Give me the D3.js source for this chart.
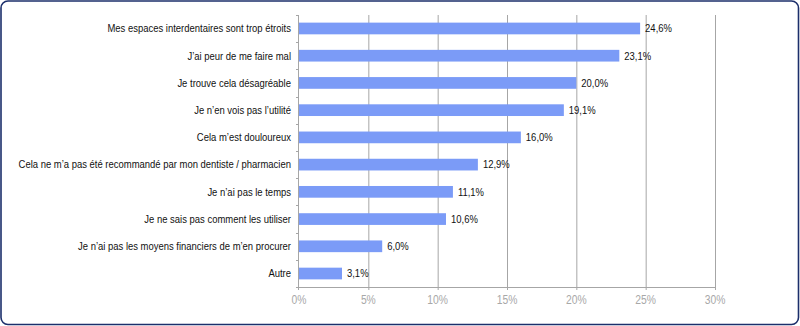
<!DOCTYPE html>
<html><head><meta charset="utf-8">
<script src="https://cdn.jsdelivr.net/npm/d3@7"></script>
<style>body{margin:0;background:#fff}svg{display:block}</style>
</head><body>
<script>
const categories = [
  "Mes espaces interdentaires sont trop étroits",
  "J’ai peur de me faire mal",
  "Je trouve cela désagréable",
  "Je n’en vois pas l’utilité",
  "Cela m’est douloureux",
  "Cela ne m’a pas été recommandé par mon dentiste / pharmacien",
  "Je n’ai pas le temps",
  "Je ne sais pas comment les utiliser",
  "Je n’ai pas les moyens financiers de m’en procurer",
  "Autre"
];
const values = [24.6, 23.1, 20.0, 19.1, 16.0, 12.9, 11.1, 10.6, 6.0, 3.1];
const valueLabels = ["24,6%","23,1%","20,0%","19,1%","16,0%","12,9%","11,1%","10,6%","6,0%","3,1%"];
const xTicks = [0, 5, 10, 15, 20, 25, 30];
const xTickLabels = ["0%","5%","10%","15%","20%","25%","30%"];

(function(){
const W = 800, H = 326;
const svg = d3.select("body").append("svg").attr("width", W).attr("height", H);
const FONT = "Liberation Sans, Arial, sans-serif";
const squeeze = sel => sel.each(function(){
  const len = this.getComputedTextLength();
  d3.select(this).attr("textLength", len * 0.86).attr("lengthAdjust", "spacingAndGlyphs");
});

svg.append("rect").attr("x", 1).attr("y", 1).attr("width", W - 2.5).attr("height", H - 2.5)
  .attr("rx", 7).attr("fill", "#fff").attr("stroke", "#1c2f6b").attr("stroke-width", 1.6);

const pl = 299, pr = 715, pt = 15, pb = 287;
const x = d3.scaleLinear().domain([0, 30]).range([pl, pr]);
const y = d3.scaleBand().domain(categories).range([pt, pb]).paddingInner(0.57).paddingOuter(0.28);
const grid = "#a6a6a6";

svg.append("g").selectAll("line").data(xTicks.slice(1)).join("line")
  .attr("x1", d => x(d) + 0.5).attr("x2", d => x(d) + 0.5)
  .attr("y1", pt).attr("y2", pb + 3)
  .attr("stroke", grid).attr("stroke-width", 1);

svg.append("line").attr("x1", pl).attr("x2", pr + 1).attr("y1", pb + 0.5).attr("y2", pb + 0.5)
  .attr("stroke", grid);
svg.append("line").attr("x1", pl - 0.5).attr("x2", pl - 0.5).attr("y1", pt).attr("y2", pb + 3)
  .attr("stroke", grid);
const bounds = d3.range(categories.length + 1).map(i => pt + i * (pb - pt) / categories.length);
svg.append("g").selectAll("line").data(bounds).join("line")
  .attr("x1", pl - 3).attr("x2", pl).attr("y1", d => Math.round(d) + 0.5).attr("y2", d => Math.round(d) + 0.5)
  .attr("stroke", grid);

svg.append("g").selectAll("rect").data(values).join("rect")
  .attr("x", pl).attr("y", (d, i) => y(categories[i]))
  .attr("width", d => x(d) - pl).attr("height", y.bandwidth())
  .attr("fill", "#7b9bf7");

svg.append("g").selectAll("text").data(categories).join("text")
  .attr("x", pl - 8).attr("y", d => y(d) + y.bandwidth() / 2)
  .attr("dy", "0.35em").attr("text-anchor", "end")
  .attr("font-family", FONT).attr("font-size", 11)
  .attr("fill", "#111").text(d => d).call(squeeze);

svg.append("g").selectAll("text").data(values).join("text")
  .attr("x", d => x(d) + 5).attr("y", (d, i) => y(categories[i]) + y.bandwidth() / 2)
  .attr("dy", "0.35em")
  .attr("font-family", FONT).attr("font-size", 11)
  .attr("fill", "#111").text((d, i) => valueLabels[i]).call(squeeze);

svg.append("g").selectAll("text").data(xTicks).join("text")
  .attr("x", d => x(d)).attr("y", pb + 17)
  .attr("text-anchor", "middle")
  .attr("font-family", FONT).attr("font-size", 12)
  .attr("fill", "#a8a8a8").text((d, i) => xTickLabels[i]).call(squeeze);
})();
</script>
</body></html>
